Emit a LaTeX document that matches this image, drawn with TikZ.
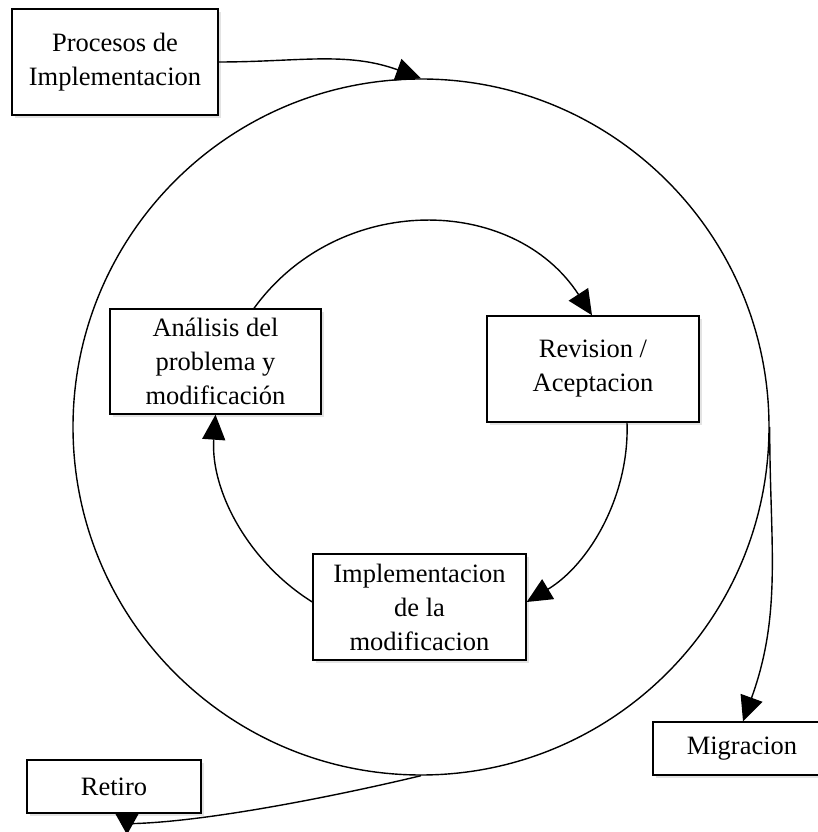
\documentclass[tikz,border=0pt]{standalone}
\usepackage{fontspec}
\setmainfont{Liberation Serif}
\usetikzlibrary{arrows.meta,shadows}
\begin{document}
\begin{tikzpicture}[x=1pt,y=1pt,
  box/.style={draw, line width=1.4pt, fill=white, align=center, inner sep=0pt,
    font=\fontsize{26.5}{34}\selectfont,
    drop shadow={shadow xshift=3pt, shadow yshift=-3pt, fill=black!22}},
  conn/.style={line width=1.4pt, -{Triangle[length=25pt,width=23pt]}},
  ring/.style={draw, line width=1.4pt, circle, inner sep=0pt}]
\useasboundingbox (0,0) rectangle (818,832);
% outer cycle
\node[ring, minimum size=696pt] (outer) at (421,405) {};
% boxes
\node[box, minimum width=206pt, minimum height=106pt] (proc) at (115,770) {Procesos de\\Implementacion};
\node[box, minimum width=211pt, minimum height=105pt] (an) at (215.5,470.5) {Análisis del\\problema y\\modificación};
\node[box, minimum width=212pt, minimum height=106pt] (rev) at (593,463) {Revision /\\Aceptacion};
\node[box, minimum width=213pt, minimum height=106pt] (imp) at (419.5,225) {Implementacion\\de la\\modificacion};
\node[box, minimum width=178pt, minimum height=53pt] (mig) at (742,83.5) {Migracion};
\node[box, minimum width=174pt, minimum height=53pt] (ret) at (114,45.5) {Retiro};
% inner cycle
\draw[conn] ([xshift=38.5pt]an.north) to[out=54,in=123,looseness=1.09] ([xshift=-1pt]rev.north);
\draw[conn] ([xshift=34pt]rev.south) to[out=-88,in=31,looseness=0.91] ([yshift=5pt]imp.east);
\draw[conn] ([yshift=5pt]imp.west) to[out=148,in=266,looseness=0.92] (an.south);
% outer connectors
\draw[conn] (proc.east) to[out=0,in=160] (outer.north);
\draw[conn] (outer.east) to[out=-90,in=70] ([xshift=1pt]mig.north);
\coordinate (rk) at ([xshift=13pt,yshift=-10pt]ret.south);
\coordinate (rt) at ([xshift=13pt,yshift=-21pt]ret.south);
\draw[line width=1.4pt, -{Triangle[length=21pt,width=23pt]}] (outer.south) .. controls (332,35) and (200,9) .. (rk) -- (rt);
\end{tikzpicture}
\end{document}
